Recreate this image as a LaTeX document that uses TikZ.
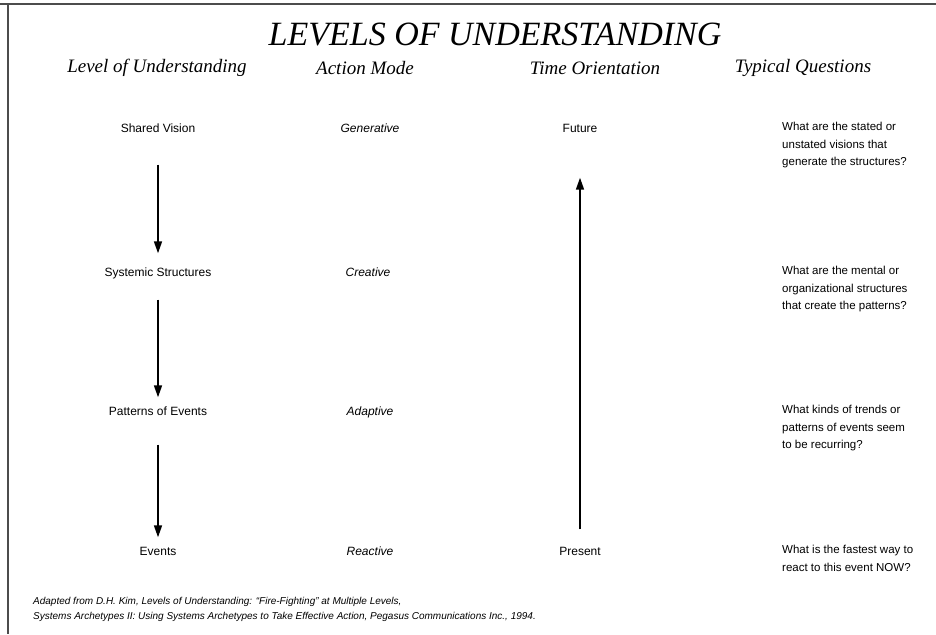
\documentclass[tikz,border=0pt]{standalone}
\usepackage{fontspec}
\setmainfont{Liberation Serif}
\setsansfont{Liberation Sans}
\usetikzlibrary{arrows.meta}

\tikzset{
  colhead/.style={font=\fontsize{19}{22}\selectfont\itshape},
  level/.style={font=\sffamily\fontsize{12}{14}\selectfont, text height=9pt, text depth=2pt, inner sep=2pt},
  mode/.style={level, font=\sffamily\itshape\fontsize{12}{14}\selectfont},
  question/.style={font=\sffamily\fontsize{11.5}{17.5}\selectfont, align=left, anchor=north west, inner sep=0pt},
  flow/.style={line width=1.6pt, -{Triangle[width=8pt,length=12pt]}},
}

\begin{document}
\begin{tikzpicture}[x=1pt,y=-1pt]
\useasboundingbox (0,0) rectangle (936,634);
% frame
\draw[line width=2.5pt, black!70] (0,4) -- (936,4);
\draw[line width=2pt, black!70] (8,4) -- (8,634);

\node[font=\fontsize{34}{38}\selectfont\itshape] (title) at (495,35) {LEVELS OF UNDERSTANDING};

% column headings
\node[colhead] (hlevel) at (157,68) {Level of Understanding};
\node[colhead] (hmode) at (365,68) {Action Mode};
\node[colhead] (htime) at (595,68) {Time Orientation};
\node[colhead] (hquest) at (803,68) {Typical Questions};

% levels
\node[level] (vision) at (158,129) {Shared Vision};
\node[level] (struct) at (158,273) {Systemic Structures};
\node[level] (patterns) at (158,412) {Patterns of Events};
\node[level] (events) at (158,552) {Events};

% action modes
\node[mode] (generative) at (370,129) {Generative};
\node[mode] (creative) at (368,273) {Creative};
\node[mode] (adaptive) at (370,412) {Adaptive};
\node[mode] (reactive) at (370,552) {Reactive};

% time
\node[level] (future) at (580,129) {Future};
\node[level] (present) at (580,552) {Present};

% questions
\node[question] (qvision) at (782,122) {What are the stated or\\unstated visions that\\generate the structures?};
\node[question] (qstruct) at (782,266) {What are the mental or\\organizational structures\\that create the patterns?};
\node[question] (qpatterns) at (782,405) {What kinds of trends or\\patterns of events seem\\to be recurring?};
\node[question] (qevents) at (782,545) {What is the fastest way to\\react to this event NOW?};

% arrows
\draw[flow, shorten <=28pt, shorten >=12pt] (vision) -- (struct);
\draw[flow, shorten <=19pt, shorten >=7pt] (struct) -- (patterns);
\draw[flow, shorten <=25pt, shorten >=7pt] (patterns) -- (events);
\draw[flow, shorten <=15pt, shorten >=41pt] (present) -- (future);

% source
\node[font=\sffamily\itshape\fontsize{10}{15}\selectfont, align=left, anchor=north west, inner sep=0pt] (source) at (33,597)
  {Adapted from D.H. Kim, Levels of Understanding: ``Fire-Fighting'' at Multiple Levels,\\
   Systems Archetypes II: Using Systems Archetypes to Take Effective Action, Pegasus Communications Inc., 1994.};
\end{tikzpicture}
\end{document}
